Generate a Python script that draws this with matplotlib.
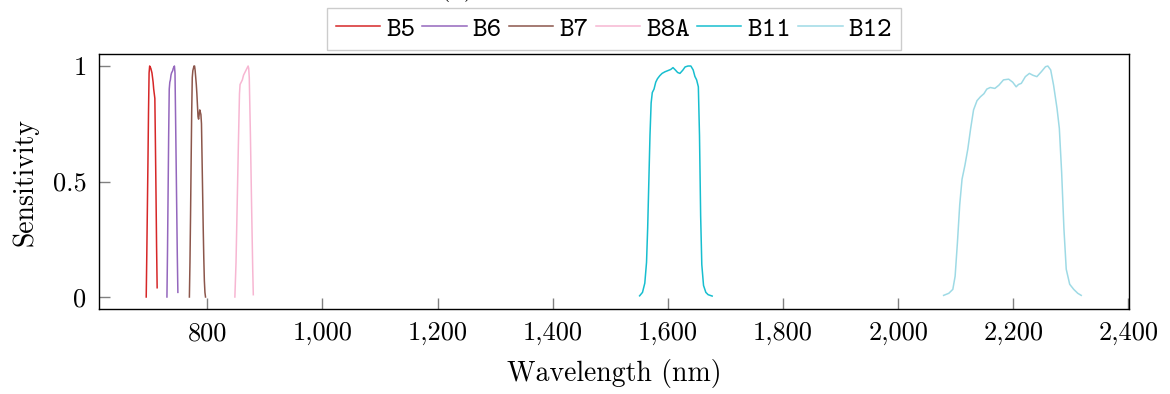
import matplotlib
matplotlib.use("Agg")
import matplotlib.pyplot as plt
from matplotlib.ticker import FuncFormatter

plt.rcParams['font.family'] = 'cmr10'
plt.rcParams['axes.formatter.use_mathtext'] = True
plt.rcParams['mathtext.fontset'] = 'cm'

# Sentinel-2 spectral response functions (wavelength in nm, relative sensitivity)
b5_wl = [694, 695, 696, 697, 698, 699, 700, 701, 702, 703, 704, 705, 706, 707, 708,
         709, 710, 711, 712, 713]
b5_val = [0.0, 0.18, 0.38, 0.58, 0.8, 0.97, 1.0, 0.995, 0.99, 0.98, 0.97, 0.95, 0.93,
          0.9, 0.88, 0.86, 0.66, 0.45, 0.22, 0.04]

b6_wl = [730, 731, 732, 733, 734, 735, 736, 737, 738, 739, 740, 741, 742, 743, 744,
         745, 746, 747, 748, 749]
b6_val = [0.0, 0.2, 0.45, 0.7, 0.9, 0.93, 0.94, 0.96, 0.97, 0.975, 0.98, 0.99, 0.995,
          1.0, 0.97, 0.78, 0.58, 0.38, 0.18, 0.02]

b7_wl = [769, 770, 771, 772, 773, 774, 775, 776, 777, 778, 779, 780, 781, 782, 783,
         784, 785, 786, 787, 788, 789, 790, 791, 792, 793, 794, 795, 796, 797]
b7_val = [0.0, 0.15, 0.35, 0.58, 0.8, 0.95, 0.98, 0.99, 1.0, 1.0, 0.98, 0.95, 0.92,
          0.88, 0.83, 0.78, 0.77, 0.79, 0.81, 0.8, 0.79, 0.75, 0.6, 0.45, 0.3, 0.17,
          0.07, 0.02, 0.0]

b8a_wl = [848, 850, 852, 854, 856, 857, 859, 861, 863, 865, 867, 869, 871, 872, 873,
          875, 877, 879, 880]
b8a_val = [0.0, 0.15, 0.4, 0.65, 0.88, 0.92, 0.93, 0.94, 0.96, 0.97, 0.98, 0.99, 1.0,
           0.99, 0.95, 0.7, 0.4, 0.12, 0.01]

b11_wl = [1551, 1556, 1560, 1563, 1565, 1567, 1569, 1571, 1573, 1576, 1579, 1582, 1586,
          1590, 1595, 1600, 1605, 1609, 1613, 1617, 1621, 1626, 1630, 1635, 1640, 1644,
          1647, 1650, 1653, 1655, 1657, 1659, 1662, 1666, 1670, 1677]
b11_val = [0.005, 0.02, 0.06, 0.15, 0.3, 0.5, 0.7, 0.84, 0.885, 0.9, 0.93, 0.945, 0.958,
           0.968, 0.975, 0.98, 0.985, 0.993, 0.983, 0.972, 0.968, 0.982, 0.996, 1.0, 1.0,
           0.983, 0.955, 0.94, 0.91, 0.7, 0.35, 0.14, 0.05, 0.02, 0.01, 0.004]

b12_wl = [2079, 2088, 2095, 2099, 2103, 2107, 2111, 2116, 2121, 2126, 2131, 2137, 2143,
          2149, 2154, 2160, 2168, 2175, 2183, 2192, 2199, 2205, 2209, 2214, 2221, 2228,
          2234, 2241, 2249, 2256, 2260, 2265, 2270, 2276, 2280, 2284, 2288, 2292, 2298,
          2305, 2312, 2318]
b12_val = [0.007, 0.016, 0.033, 0.09, 0.236, 0.4, 0.51, 0.57, 0.64, 0.73, 0.81, 0.85,
           0.867, 0.88, 0.9, 0.907, 0.903, 0.917, 0.94, 0.943, 0.93, 0.91, 0.92, 0.925,
           0.954, 0.968, 0.96, 0.954, 0.976, 0.997, 1.0, 0.983, 0.917, 0.816, 0.73, 0.54,
           0.294, 0.12, 0.055, 0.033, 0.016, 0.007]

band_names = ['B5', 'B6', 'B7', 'B8A', 'B11', 'B12']
band_colors = ['#d62728', '#9467bd', '#8c564b', '#f7b6d2', '#17becf', '#9edae5']
bands = [(b5_wl, b5_val), (b6_wl, b6_val), (b7_wl, b7_val),
         (b8a_wl, b8a_val), (b11_wl, b11_val), (b12_wl, b12_val)]

fig = plt.figure(figsize=(11.7, 3.94), dpi=100)
ax = fig.add_axes([99 / 1170, 85 / 394, 1030 / 1170, 255 / 394])

for (wl, val), name, col in zip(bands, band_names, band_colors):
    ax.plot(wl, val, color=col, lw=1.1, label=name)

ax.set_xlim(612, 2401)
ax.set_ylim(-0.052, 1.052)
ax.set_xticks(range(800, 2401, 200))
ax.set_yticks([0, 0.5, 1])
ax.xaxis.set_major_formatter(FuncFormatter(lambda v, p: f'{v:,.0f}'))
ax.yaxis.set_major_formatter(FuncFormatter(lambda v, p: f'{v:g}'))
ax.tick_params(direction='in', length=8, width=1, color='#808080',
               labelsize=19, pad=9)

for sp in ax.spines.values():
    sp.set_linewidth(1.0)
    sp.set_color('black')

ax.set_xlabel('Wavelength (nm)', fontsize=20, labelpad=10)
ax.set_ylabel('Sensitivity', fontsize=20, labelpad=10)

leg = ax.legend(loc='lower center', bbox_to_anchor=(0.5, 1.015), ncol=6,
                frameon=True, fancybox=False, framealpha=1, edgecolor='#cccccc',
                borderaxespad=0, handlelength=1.6, handletextpad=0.22,
                columnspacing=0.25, borderpad=0.3,
                prop={'family': 'cmtt10', 'size': 20})
leg.get_frame().set_linewidth(1.0)

# caption above the legend, mostly outside the canvas
fig.text(457 / 1170, 1 + 5 / 394, '(b)', ha='center', va='baseline', fontsize=19)

fig.savefig('out.png', dpi=100)
